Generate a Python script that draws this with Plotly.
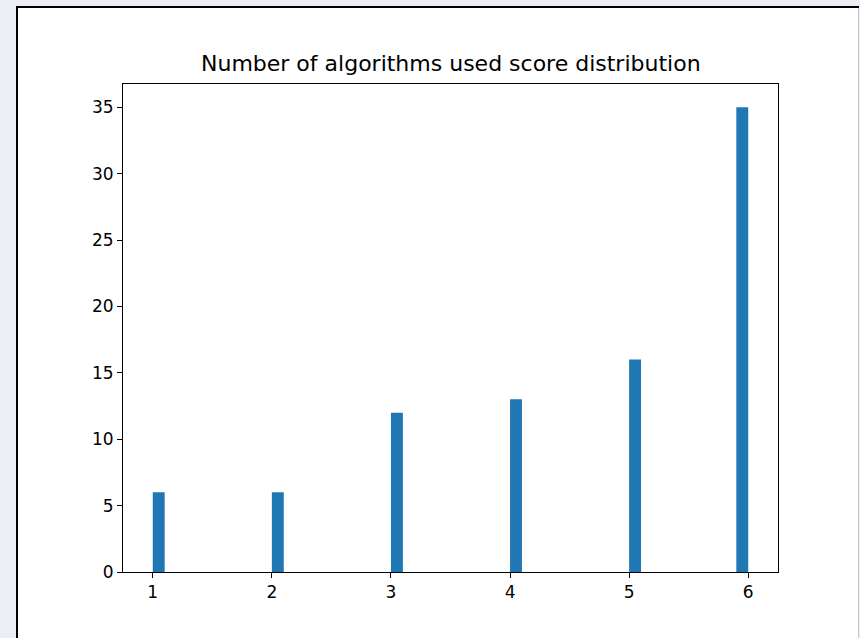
import plotly.graph_objects as go

scores = [1, 2, 3, 4, 5, 6]
counts = [6, 6, 12, 13, 16, 35]
bin_width = 0.1
title_text = "Number of algorithms used score distribution"
y_ticks = [0, 5, 10, 15, 20, 25, 30, 35]
x_ticks = [1, 2, 3, 4, 5, 6]

W, H = 860, 638
L, R, T, B = 123, 82, 84, 66
pw, ph = W - L - R, H - T - B

def px_x(px):
    return (px - L) / pw

def px_y(py):
    return (H - B - py) / ph

# histogram bins: last bin closes at the upper edge
offsets = [0.0] * (len(scores) - 1) + [-bin_width]

fig = go.Figure()
fig.add_trace(go.Bar(x=scores, y=counts, width=bin_width, offset=offsets,
                     marker=dict(color="#1f77b4", line=dict(width=0))))

fig.update_layout(
    width=W, height=H,
    margin=dict(l=L, r=R, t=T, b=B),
    paper_bgcolor="#eceef4",
    plot_bgcolor="white",
    showlegend=False,
    font=dict(family="DejaVu Sans", color="black"),
)
fig.update_xaxes(range=[0.75, 6.25], tickmode="array", tickvals=x_ticks,
                 ticks="outside", ticklen=5, tickcolor="black", tickwidth=1,
                 showline=True, linecolor="black", linewidth=1, mirror=True,
                 showgrid=False, zeroline=False, tickfont=dict(size=17))
fig.update_yaxes(range=[0, 36.75], tickmode="array", tickvals=y_ticks,
                 ticks="outside", ticklen=5, tickcolor="black", tickwidth=1,
                 showline=True, linecolor="black", linewidth=1, mirror=True,
                 showgrid=False, zeroline=False, tickfont=dict(size=17))

# white figure frame
fig.add_shape(type="rect", xref="paper", yref="paper", layer="below",
              x0=px_x(17), x1=px_x(859), y0=px_y(645), y1=px_y(7),
              fillcolor="white", line=dict(width=0))
fig.add_shape(type="line", xref="paper", yref="paper",
              x0=px_x(17), x1=px_x(17), y0=px_y(645), y1=px_y(7),
              line=dict(color="black", width=2))
fig.add_shape(type="line", xref="paper", yref="paper",
              x0=px_x(16), x1=px_x(859), y0=px_y(7), y1=px_y(7),
              line=dict(color="black", width=2))
fig.add_shape(type="line", xref="paper", yref="paper",
              x0=px_x(858.5), x1=px_x(858.5), y0=px_y(645), y1=px_y(8),
              line=dict(color="#c8c8c8", width=1))

fig.add_annotation(text=title_text, xref="paper", yref="paper",
                   x=0.5, y=px_y(63), xanchor="center", yanchor="middle",
                   showarrow=False, font=dict(size=22, color="black", family="DejaVu Sans"))

fig.write_html("out.html")
